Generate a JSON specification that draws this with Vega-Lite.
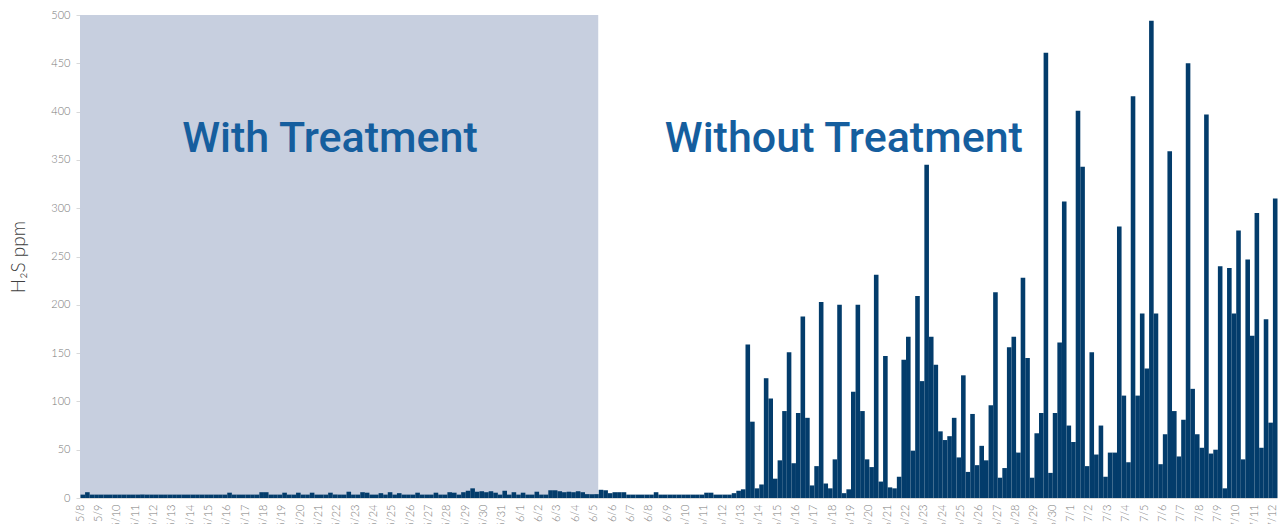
{
  "$schema": "https://vega.github.io/schema/vega-lite/v6.json",
  "width": 1197,
  "height": 483,
  "autosize": "none",
  "padding": {"left": 80, "top": 15, "right": 1, "bottom": 26},
  "background": "#ffffff",
  "config": {"view": {"stroke": null}},
  "layer": [
    {
      "data": {"values": [{}]},
      "mark": {"type": "rect", "color": "#c7cfdf"},
      "encoding": {
        "x": {"datum": {"year": 2019, "month": 5, "date": 8}, "type": "temporal"},
        "x2": {"datum": {"year": 2019, "month": 6, "date": 5, "hours": 6}},
        "y": {"datum": 500, "type": "quantitative"},
        "y2": {"datum": 0}
      }
    },
    {
      "data": {"values": [
        {"t":"2019-05-08T00:00","v":3.5},{"t":"2019-05-08T06:00","v":6},{"t":"2019-05-08T12:00","v":3.5},{"t":"2019-05-08T18:00","v":3.5},
        {"t":"2019-05-09T00:00","v":3.5},{"t":"2019-05-09T06:00","v":3.5},{"t":"2019-05-09T12:00","v":3.5},{"t":"2019-05-09T18:00","v":3.5},
        {"t":"2019-05-10T00:00","v":3.5},{"t":"2019-05-10T06:00","v":3.5},{"t":"2019-05-10T12:00","v":3.5},{"t":"2019-05-10T18:00","v":3.5},
        {"t":"2019-05-11T00:00","v":3.5},{"t":"2019-05-11T06:00","v":3.5},{"t":"2019-05-11T12:00","v":3.5},{"t":"2019-05-11T18:00","v":3.5},
        {"t":"2019-05-12T00:00","v":3.5},{"t":"2019-05-12T06:00","v":3.5},{"t":"2019-05-12T12:00","v":3.5},{"t":"2019-05-12T18:00","v":3.5},
        {"t":"2019-05-13T00:00","v":3.5},{"t":"2019-05-13T06:00","v":3.5},{"t":"2019-05-13T12:00","v":3.5},{"t":"2019-05-13T18:00","v":3.5},
        {"t":"2019-05-14T00:00","v":3.5},{"t":"2019-05-14T06:00","v":3.5},{"t":"2019-05-14T12:00","v":3.5},{"t":"2019-05-14T18:00","v":3.5},
        {"t":"2019-05-15T00:00","v":3.5},{"t":"2019-05-15T06:00","v":3.5},{"t":"2019-05-15T12:00","v":3.5},{"t":"2019-05-15T18:00","v":3.5},
        {"t":"2019-05-16T00:00","v":5.5},{"t":"2019-05-16T06:00","v":3.5},{"t":"2019-05-16T12:00","v":3.5},{"t":"2019-05-16T18:00","v":3.5},
        {"t":"2019-05-17T00:00","v":3.5},{"t":"2019-05-17T06:00","v":3.5},{"t":"2019-05-17T12:00","v":3.5},{"t":"2019-05-17T18:00","v":6},
        {"t":"2019-05-18T00:00","v":6},{"t":"2019-05-18T06:00","v":3.5},{"t":"2019-05-18T12:00","v":3.5},{"t":"2019-05-18T18:00","v":3.5},
        {"t":"2019-05-19T00:00","v":5.5},{"t":"2019-05-19T06:00","v":3.5},{"t":"2019-05-19T12:00","v":3.5},{"t":"2019-05-19T18:00","v":5.5},
        {"t":"2019-05-20T00:00","v":3.5},{"t":"2019-05-20T06:00","v":3.5},{"t":"2019-05-20T12:00","v":5.5},{"t":"2019-05-20T18:00","v":3.5},
        {"t":"2019-05-21T00:00","v":3.5},{"t":"2019-05-21T06:00","v":3.5},{"t":"2019-05-21T12:00","v":5.5},{"t":"2019-05-21T18:00","v":3.5},
        {"t":"2019-05-22T00:00","v":3.5},{"t":"2019-05-22T06:00","v":3.5},{"t":"2019-05-22T12:00","v":6.5},{"t":"2019-05-22T18:00","v":3.5},
        {"t":"2019-05-23T00:00","v":3.5},{"t":"2019-05-23T06:00","v":6},{"t":"2019-05-23T12:00","v":5.5},{"t":"2019-05-23T18:00","v":3.5},
        {"t":"2019-05-24T00:00","v":3.5},{"t":"2019-05-24T06:00","v":5},{"t":"2019-05-24T12:00","v":3.5},{"t":"2019-05-24T18:00","v":6},
        {"t":"2019-05-25T00:00","v":3.5},{"t":"2019-05-25T06:00","v":5},{"t":"2019-05-25T12:00","v":3.5},{"t":"2019-05-25T18:00","v":3.5},
        {"t":"2019-05-26T00:00","v":3.5},{"t":"2019-05-26T06:00","v":5.5},{"t":"2019-05-26T12:00","v":3.5},{"t":"2019-05-26T18:00","v":3.5},
        {"t":"2019-05-27T00:00","v":3.5},{"t":"2019-05-27T06:00","v":5.5},{"t":"2019-05-27T12:00","v":3.5},{"t":"2019-05-27T18:00","v":3.5},
        {"t":"2019-05-28T00:00","v":6},{"t":"2019-05-28T06:00","v":5.5},{"t":"2019-05-28T12:00","v":3.5},{"t":"2019-05-28T18:00","v":6},
        {"t":"2019-05-29T00:00","v":7.5},{"t":"2019-05-29T06:00","v":10},{"t":"2019-05-29T12:00","v":6.5},{"t":"2019-05-29T18:00","v":7},
        {"t":"2019-05-30T00:00","v":6},{"t":"2019-05-30T06:00","v":7},{"t":"2019-05-30T12:00","v":5.5},{"t":"2019-05-30T18:00","v":3.5},
        {"t":"2019-05-31T00:00","v":7.5},{"t":"2019-05-31T06:00","v":3.5},{"t":"2019-05-31T12:00","v":6},{"t":"2019-05-31T18:00","v":3.5},
        {"t":"2019-06-01T00:00","v":5.5},{"t":"2019-06-01T06:00","v":3.5},{"t":"2019-06-01T12:00","v":3.5},{"t":"2019-06-01T18:00","v":6.5},
        {"t":"2019-06-02T00:00","v":3.5},{"t":"2019-06-02T06:00","v":3.5},{"t":"2019-06-02T12:00","v":8},{"t":"2019-06-02T18:00","v":8},
        {"t":"2019-06-03T00:00","v":7},{"t":"2019-06-03T06:00","v":6},{"t":"2019-06-03T12:00","v":6.5},{"t":"2019-06-03T18:00","v":6},
        {"t":"2019-06-04T00:00","v":7},{"t":"2019-06-04T06:00","v":6},{"t":"2019-06-04T12:00","v":4},{"t":"2019-06-04T18:00","v":4},
        {"t":"2019-06-05T00:00","v":4},{"t":"2019-06-05T06:00","v":8.5},{"t":"2019-06-05T12:00","v":8},{"t":"2019-06-05T18:00","v":5},
        {"t":"2019-06-06T00:00","v":6},{"t":"2019-06-06T06:00","v":6},{"t":"2019-06-06T12:00","v":6},{"t":"2019-06-06T18:00","v":3.5},
        {"t":"2019-06-07T00:00","v":3.5},{"t":"2019-06-07T06:00","v":3.5},{"t":"2019-06-07T12:00","v":3.5},{"t":"2019-06-07T18:00","v":3.5},
        {"t":"2019-06-08T00:00","v":3.5},{"t":"2019-06-08T06:00","v":6},{"t":"2019-06-08T12:00","v":3.5},{"t":"2019-06-08T18:00","v":3.5},
        {"t":"2019-06-09T00:00","v":3.5},{"t":"2019-06-09T06:00","v":3.5},{"t":"2019-06-09T12:00","v":3.5},{"t":"2019-06-09T18:00","v":3.5},
        {"t":"2019-06-10T00:00","v":3.5},{"t":"2019-06-10T06:00","v":3.5},{"t":"2019-06-10T12:00","v":3.5},{"t":"2019-06-10T18:00","v":3.5},
        {"t":"2019-06-11T00:00","v":5.5},{"t":"2019-06-11T06:00","v":5.5},{"t":"2019-06-11T12:00","v":3.5},{"t":"2019-06-11T18:00","v":3.5},
        {"t":"2019-06-12T00:00","v":3.5},{"t":"2019-06-12T06:00","v":3.5},{"t":"2019-06-12T12:00","v":5},{"t":"2019-06-12T18:00","v":7.5},
        {"t":"2019-06-13T00:00","v":9},{"t":"2019-06-13T06:00","v":159},{"t":"2019-06-13T12:00","v":79},{"t":"2019-06-13T18:00","v":10},
        {"t":"2019-06-14T00:00","v":14},{"t":"2019-06-14T06:00","v":124},{"t":"2019-06-14T12:00","v":103},{"t":"2019-06-14T18:00","v":20},
        {"t":"2019-06-15T00:00","v":39},{"t":"2019-06-15T06:00","v":90},{"t":"2019-06-15T12:00","v":151},{"t":"2019-06-15T18:00","v":36},
        {"t":"2019-06-16T00:00","v":88},{"t":"2019-06-16T06:00","v":188},{"t":"2019-06-16T12:00","v":83},{"t":"2019-06-16T18:00","v":13},
        {"t":"2019-06-17T00:00","v":33},{"t":"2019-06-17T06:00","v":203},{"t":"2019-06-17T12:00","v":15},{"t":"2019-06-17T18:00","v":10},
        {"t":"2019-06-18T00:00","v":40},{"t":"2019-06-18T06:00","v":200},{"t":"2019-06-18T12:00","v":5},{"t":"2019-06-18T18:00","v":9},
        {"t":"2019-06-19T00:00","v":110},{"t":"2019-06-19T06:00","v":200},{"t":"2019-06-19T12:00","v":90},{"t":"2019-06-19T18:00","v":40},
        {"t":"2019-06-20T00:00","v":32},{"t":"2019-06-20T06:00","v":231},{"t":"2019-06-20T12:00","v":17},{"t":"2019-06-20T18:00","v":147},
        {"t":"2019-06-21T00:00","v":11},{"t":"2019-06-21T06:00","v":10},{"t":"2019-06-21T12:00","v":22},{"t":"2019-06-21T18:00","v":143},
        {"t":"2019-06-22T00:00","v":167},{"t":"2019-06-22T06:00","v":49},{"t":"2019-06-22T12:00","v":209},{"t":"2019-06-22T18:00","v":121},
        {"t":"2019-06-23T00:00","v":345},{"t":"2019-06-23T06:00","v":167},{"t":"2019-06-23T12:00","v":138},{"t":"2019-06-23T18:00","v":69},
        {"t":"2019-06-24T00:00","v":60},{"t":"2019-06-24T06:00","v":64},{"t":"2019-06-24T12:00","v":83},{"t":"2019-06-24T18:00","v":42},
        {"t":"2019-06-25T00:00","v":127},{"t":"2019-06-25T06:00","v":27},{"t":"2019-06-25T12:00","v":87},{"t":"2019-06-25T18:00","v":34},
        {"t":"2019-06-26T00:00","v":54},{"t":"2019-06-26T06:00","v":39},{"t":"2019-06-26T12:00","v":96},{"t":"2019-06-26T18:00","v":213},
        {"t":"2019-06-27T00:00","v":21},{"t":"2019-06-27T06:00","v":31},{"t":"2019-06-27T12:00","v":156},{"t":"2019-06-27T18:00","v":167},
        {"t":"2019-06-28T00:00","v":47},{"t":"2019-06-28T06:00","v":228},{"t":"2019-06-28T12:00","v":145},{"t":"2019-06-28T18:00","v":21},
        {"t":"2019-06-29T00:00","v":67},{"t":"2019-06-29T06:00","v":88},{"t":"2019-06-29T12:00","v":461},{"t":"2019-06-29T18:00","v":26},
        {"t":"2019-06-30T00:00","v":88},{"t":"2019-06-30T06:00","v":161},{"t":"2019-06-30T12:00","v":307},{"t":"2019-06-30T18:00","v":75},
        {"t":"2019-07-01T00:00","v":58},{"t":"2019-07-01T06:00","v":401},{"t":"2019-07-01T12:00","v":343},{"t":"2019-07-01T18:00","v":33},
        {"t":"2019-07-02T00:00","v":151},{"t":"2019-07-02T06:00","v":45},{"t":"2019-07-02T12:00","v":75},{"t":"2019-07-02T18:00","v":22},
        {"t":"2019-07-03T00:00","v":47},{"t":"2019-07-03T06:00","v":47},{"t":"2019-07-03T12:00","v":281},{"t":"2019-07-03T18:00","v":106},
        {"t":"2019-07-04T00:00","v":37},{"t":"2019-07-04T06:00","v":416},{"t":"2019-07-04T12:00","v":106},{"t":"2019-07-04T18:00","v":191},
        {"t":"2019-07-05T00:00","v":134},{"t":"2019-07-05T06:00","v":494},{"t":"2019-07-05T12:00","v":191},{"t":"2019-07-05T18:00","v":35},
        {"t":"2019-07-06T00:00","v":66},{"t":"2019-07-06T06:00","v":359},{"t":"2019-07-06T12:00","v":90},{"t":"2019-07-06T18:00","v":43},
        {"t":"2019-07-07T00:00","v":81},{"t":"2019-07-07T06:00","v":450},{"t":"2019-07-07T12:00","v":113},{"t":"2019-07-07T18:00","v":66},
        {"t":"2019-07-08T00:00","v":52},{"t":"2019-07-08T06:00","v":397},{"t":"2019-07-08T12:00","v":46},{"t":"2019-07-08T18:00","v":50},
        {"t":"2019-07-09T00:00","v":240},{"t":"2019-07-09T06:00","v":10},{"t":"2019-07-09T12:00","v":238},{"t":"2019-07-09T18:00","v":191},
        {"t":"2019-07-10T00:00","v":277},{"t":"2019-07-10T06:00","v":40},{"t":"2019-07-10T12:00","v":247},{"t":"2019-07-10T18:00","v":168},
        {"t":"2019-07-11T00:00","v":295},{"t":"2019-07-11T06:00","v":52},{"t":"2019-07-11T12:00","v":185},{"t":"2019-07-11T18:00","v":78},
        {"t":"2019-07-12T00:00","v":310}
      ]},
      "mark": {"type": "bar", "color": "#033c6b", "binSpacing": 0},
      "encoding": {
        "x": {
          "field": "t",
          "type": "temporal",
          "timeUnit": {"unit": "yearmonthdatehours", "step": 6},
          "scale": {"domain": [{"year": 2019, "month": 5, "date": 8}, {"year": 2019, "month": 7, "date": 12, "hours": 6}], "nice": false},
          "axis": {
            "title": null,
            "format": "%-m/%-d",
            "labelAngle": 270,
            "tickCount": {"interval": "day", "step": 1},
            "grid": false,
            "ticks": false,
            "labelOverlap": false,
            "labelFlush": false,
            "labelBound": false,
            "labelColor": "#7a7a7a",
            "labelFontSize": 11,
            "labelFont": "Lato",
            "labelFontWeight": 300,
            "labelPadding": 6,
            "domainColor": "#d9d9d9"
          }
        },
        "y": {
          "field": "v",
          "type": "quantitative",
          "scale": {"domain": [0, 500], "nice": false},
          "axis": {
            "title": "H₂S ppm",
            "values": [0, 50, 100, 150, 200, 250, 300, 350, 400, 450, 500],
            "gridColor": "#d9d9d9",
            "domain": false,
            "tickColor": "#d9d9d9",
            "tickSize": 4,
            "labelColor": "#7a7a7a",
            "labelFontSize": 11,
            "labelFont": "Lato",
            "labelFontWeight": 300,
            "labelPadding": 6,
            "titleFont": "Lato",
            "titleFontSize": 19,
            "titleFontWeight": 300,
            "titleColor": "#404040",
            "titlePadding": 22
          }
        }
      }
    },
    {
      "data": {"values": [{}]},
      "mark": {"type": "text", "text": "With Treatment", "font": "Roboto", "fontSize": 43, "fontWeight": 500, "color": "#155e9e", "align": "center", "baseline": "middle"},
      "encoding": {
        "x": {"datum": {"year": 2019, "month": 5, "date": 21, "hours": 15}, "type": "temporal"},
        "y": {"datum": 372, "type": "quantitative"}
      }
    },
    {
      "data": {"values": [{}]},
      "mark": {"type": "text", "text": "Without Treatment", "font": "Roboto", "fontSize": 43, "fontWeight": 500, "color": "#155e9e", "align": "center", "baseline": "middle"},
      "encoding": {
        "x": {"datum": {"year": 2019, "month": 6, "date": 18, "hours": 15, "minutes": 20}, "type": "temporal"},
        "y": {"datum": 372, "type": "quantitative"}
      }
    }
  ]
}
